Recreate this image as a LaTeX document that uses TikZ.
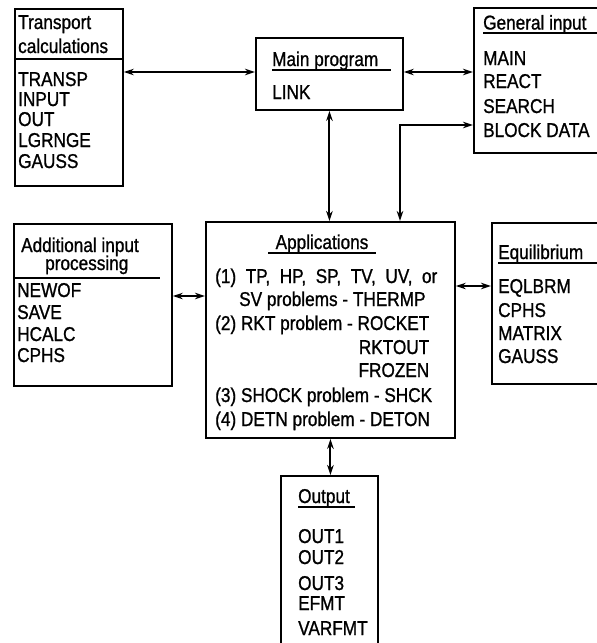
\documentclass[tikz,border=0pt]{standalone}
\usepackage{fontspec}
\setmainfont[FakeStretch=0.86, FakeBold=1.0]{Liberation Sans}
\usetikzlibrary{arrows.meta}
\newcommand{\widespaces}{\spaceskip=9.5pt\relax}

\begin{document}
\begin{tikzpicture}[x=1pt,y=-1pt,
  box/.style={draw, line width=1.9pt, inner sep=0pt, anchor=north west},
  lbl/.style={anchor=base west, inner sep=0pt, font=\fontsize{20}{22}\selectfont},
  rule/.style={line width=1.5pt},
  link/.style={line width=2pt,
    {Stealth[length=10pt,width=6.5pt]}-{Stealth[length=10pt,width=6.5pt]}}]

\clip (0,0) rectangle (597,643);

% ---- boxes ----
\node[box, minimum width=108pt, minimum height=177pt] (transport) at (14,8) {};
\node[box, minimum width=147pt, minimum height=72pt]  (main)      at (255,37) {};
\node[box, minimum width=140pt, minimum height=145pt] (general)   at (473,7) {};
\node[box, minimum width=158pt, minimum height=162pt] (additional) at (13,223) {};
\node[box, minimum width=249pt, minimum height=216pt] (apps)      at (205,221) {};
\node[box, minimum width=130pt, minimum height=161pt] (equil)     at (491,222) {};
\node[box, minimum width=97pt,  minimum height=190pt] (output)    at (280,475) {};

% ---- transport calculations ----
\node[lbl] (tr0) at (18,29) {Transport};
\node[lbl] (tr1) at (18,53) {calculations};
\draw[rule] (14,59) -- (122,59);
\node[lbl] (tr2) at (18,86)  {TRANSP};
\node[lbl] (tr3) at (18,106) {INPUT};
\node[lbl] (tr4) at (18,126) {OUT};
\node[lbl] (tr5) at (18,147) {LGRNGE};
\node[lbl] (tr6) at (18,168) {GAUSS};

% ---- main program ----
\node[lbl] (mn0) at (272,66) {Main program};
\draw[rule] (272,70) -- (391,70);
\node[lbl] (mn1) at (272,99) {LINK};

% ---- general input ----
\node[lbl] (gi0) at (483,29.5) {General input};
\draw[rule] (483,33) -- (600,33);
\node[lbl] (gi1) at (483,65)  {MAIN};
\node[lbl] (gi2) at (483,88)  {REACT};
\node[lbl] (gi3) at (483,113) {SEARCH};
\node[lbl] (gi4) at (483,137) {BLOCK DATA};

% ---- additional input processing ----
\node[lbl] (ad0) at (21,252) {Additional input};
\node[lbl] (ad1) at (45,270) {processing};
\draw[rule] (15,278) -- (160,278);
\node[lbl] (ad2) at (17,297) {NEWOF};
\node[lbl] (ad3) at (17,319) {SAVE};
\node[lbl] (ad4) at (17,341) {HCALC};
\node[lbl] (ad5) at (17,362) {CPHS};

% ---- applications ----
\node[lbl, anchor=base] (ap0) at (322,249) {Applications};
\draw[rule] (268,253) -- (376,253);
\node[lbl] (ap1) at (215,283) {\widespaces (1) TP, HP, SP, TV, UV, or};
\node[lbl] (ap2) at (239,306) {SV problems - THERMP};
\node[lbl] (ap3) at (215,330) {(2) RKT problem - ROCKET};
\node[lbl, anchor=base east] (ap4) at ([yshift=-24pt]ap3.base east) {RKTOUT};
\node[lbl, anchor=base east] (ap5) at ([yshift=-23pt]ap4.base east) {FROZEN};
\node[lbl] (ap6) at (215,402) {(3) SHOCK problem - SHCK};
\node[lbl] (ap7) at (215,426) {(4) DETN problem - DETON};

% ---- equilibrium ----
\node[lbl] (eq0) at (498,259) {Equilibrium};
\draw[rule] (498,263) -- (600,263);
\node[lbl] (eq1) at (498,293) {EQLBRM};
\node[lbl] (eq2) at (498,317) {CPHS};
\node[lbl] (eq3) at (498,340) {MATRIX};
\node[lbl] (eq4) at (498,363) {GAUSS};

% ---- output ----
\node[lbl] (ou0) at (298,503) {Output};
\draw[rule] (298,507) -- (355,507);
\node[lbl] (ou1) at (298,543) {OUT1};
\node[lbl] (ou2) at (298,564) {OUT2};
\node[lbl] (ou3) at (298,590) {OUT3};
\node[lbl] (ou4) at (298,610) {EFMT};
\node[lbl] (ou5) at (298,635) {VARFMT};

% ---- connectors ----
\coordinate (yA) at (0,72);
\coordinate (yB) at (400,125);
\coordinate (yC) at (0,296);
\coordinate (yD) at (0,286);
\draw[link] (transport.east |- yA) -- (main.west |- yA);
\draw[link] (main.east |- yA) -- (general.west |- yA);
\draw[link] (main.south) -- (main.south |- apps.north);
\draw[link] (general.west |- yB) -| (apps.north -| yB);
\draw[link] (additional.east |- yC) -- (apps.west |- yC);
\draw[link] (apps.east |- yD) -- (equil.west |- yD);
\draw[link] (apps.south) -- (apps.south |- output.north);
\end{tikzpicture}
\end{document}
